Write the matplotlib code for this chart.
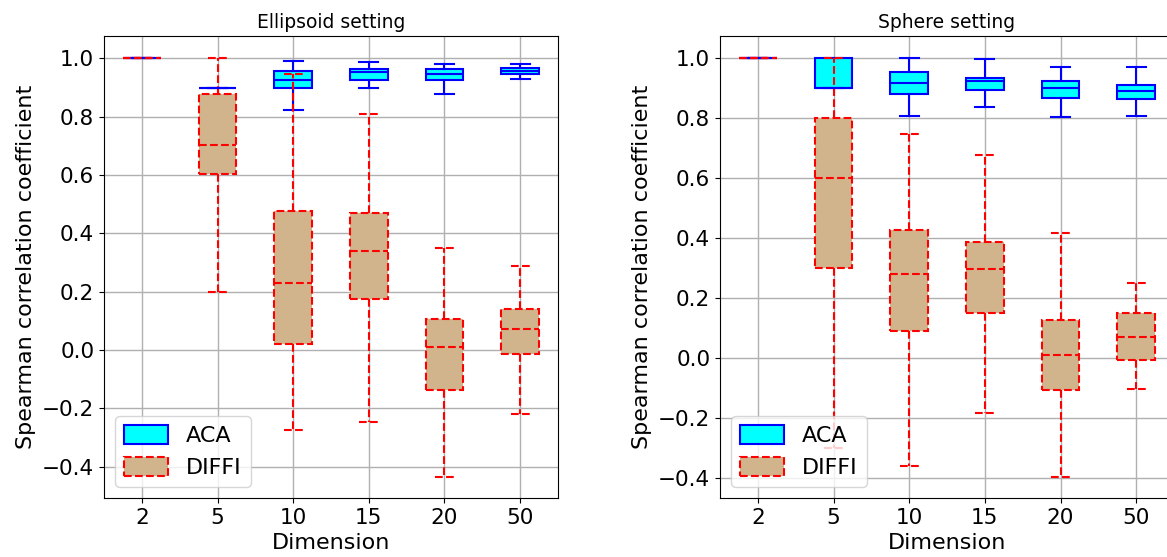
import matplotlib
matplotlib.use('Agg')
import matplotlib.pyplot as plt
from matplotlib.patches import Patch

dims = ['2', '5', '10', '15', '20', '50']

# Ellipsoid setting: whisker low, Q1, median, Q3, whisker high
ell_aca_lo = [1.0, 0.900, 0.822, 0.900, 0.878, 0.930]
ell_aca_q1 = [1.0, 0.900, 0.898, 0.927, 0.926, 0.948]
ell_aca_med = [1.0, 0.900, 0.926, 0.952, 0.946, 0.958]
ell_aca_q3 = [1.0, 0.900, 0.957, 0.963, 0.965, 0.967]
ell_aca_hi = [1.0, 0.900, 0.991, 0.987, 0.982, 0.982]

ell_diffi_lo = [1.0, 0.200, -0.273, -0.248, -0.435, -0.221]
ell_diffi_q1 = [1.0, 0.603, 0.022, 0.174, -0.138, -0.015]
ell_diffi_med = [1.0, 0.702, 0.230, 0.340, 0.009, 0.073]
ell_diffi_q3 = [1.0, 0.879, 0.477, 0.469, 0.105, 0.141]
ell_diffi_hi = [1.0, 1.000, 0.946, 0.811, 0.351, 0.288]

# Sphere setting
sph_aca_lo = [1.0, 0.900, 0.808, 0.838, 0.802, 0.807]
sph_aca_q1 = [1.0, 0.900, 0.881, 0.892, 0.868, 0.864]
sph_aca_med = [1.0, 0.900, 0.918, 0.922, 0.901, 0.890]
sph_aca_q3 = [1.0, 1.000, 0.953, 0.934, 0.923, 0.911]
sph_aca_hi = [1.0, 1.000, 1.000, 0.996, 0.970, 0.971]

sph_diffi_lo = [1.0, -0.299, -0.359, -0.182, -0.396, -0.103]
sph_diffi_q1 = [1.0, 0.301, 0.091, 0.151, -0.107, -0.007]
sph_diffi_med = [1.0, 0.600, 0.279, 0.297, 0.009, 0.069]
sph_diffi_q3 = [1.0, 0.801, 0.427, 0.388, 0.127, 0.150]
sph_diffi_hi = [1.0, 1.000, 0.748, 0.677, 0.418, 0.251]


def make_stats(lo, q1, med, q3, hi):
    return [dict(whislo=a, q1=b, med=c, q3=d, whishi=e, fliers=[])
            for a, b, c, d, e in zip(lo, q1, med, q3, hi)]


def draw(ax, aca, diffi, title):
    pos = range(1, len(dims) + 1)
    blue = dict(color='blue', linewidth=1.5)
    ax.bxp(aca, positions=pos, widths=0.5, patch_artist=True,
           boxprops=dict(facecolor='cyan', edgecolor='blue', linewidth=1.5),
           whiskerprops=blue, capprops=blue, medianprops=blue)
    red = dict(color='red', linewidth=1.5, linestyle='--')
    ax.bxp(diffi, positions=pos, widths=0.5, patch_artist=True,
           boxprops=dict(facecolor='tan', edgecolor='red', linewidth=1.5,
                         linestyle='--'),
           whiskerprops=red, capprops=red, medianprops=red)
    ax.set_xticks(list(pos))
    ax.set_xticklabels(dims)
    ax.set_xlim(0.5, 6.5)
    ax.grid(True, color='#b0b0b0', linewidth=1)
    ax.set_axisbelow(True)
    ax.tick_params(labelsize=15.5)
    ax.set_title(title, fontsize=13.5)
    ax.set_xlabel('Dimension', fontsize=16)
    ax.set_ylabel('Spearman correlation coefficient', fontsize=16)
    handles = [Patch(facecolor='cyan', edgecolor='blue', linewidth=1.5),
               Patch(facecolor='tan', edgecolor='red', linewidth=1.5, linestyle='--')]
    ax.legend(handles, ['ACA', 'DIFFI'], loc='lower left', fontsize=16,
              handlelength=2.0, handleheight=0.9)


fig = plt.figure(figsize=(11.67, 5.57), dpi=100)
ax1 = fig.add_axes([104 / 1167, 1 - 498 / 557, 454 / 1167, 462 / 557])
ax2 = fig.add_axes([720 / 1167, 1 - 498 / 557, 454 / 1167, 462 / 557])

draw(ax1, make_stats(ell_aca_lo, ell_aca_q1, ell_aca_med, ell_aca_q3, ell_aca_hi),
     make_stats(ell_diffi_lo, ell_diffi_q1, ell_diffi_med, ell_diffi_q3, ell_diffi_hi),
     'Ellipsoid setting')
ax1.set_ylim(-0.508, 1.077)

draw(ax2, make_stats(sph_aca_lo, sph_aca_q1, sph_aca_med, sph_aca_q3, sph_aca_hi),
     make_stats(sph_diffi_lo, sph_diffi_q1, sph_diffi_med, sph_diffi_q3, sph_diffi_hi),
     'Sphere setting')
ax2.set_ylim(-0.467, 1.073)

fig.savefig('out.png', dpi=100)
